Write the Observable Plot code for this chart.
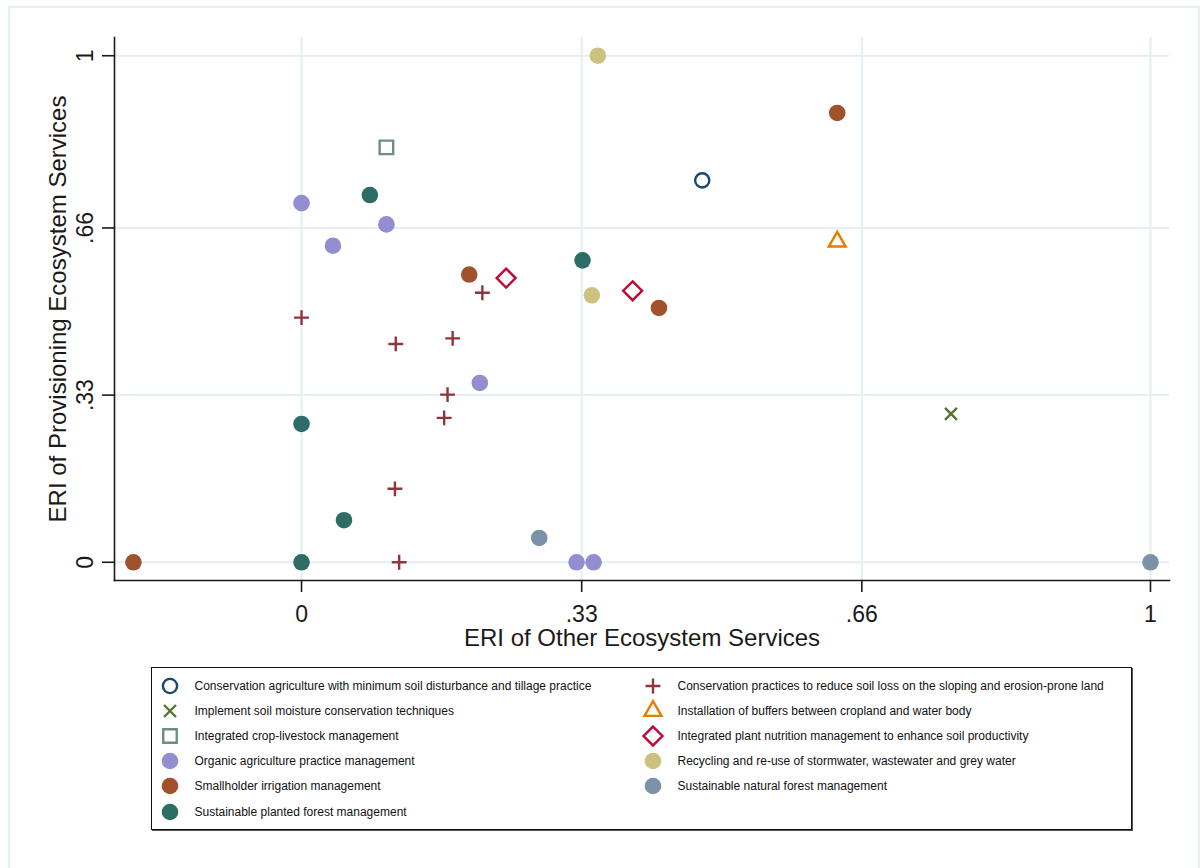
<!DOCTYPE html>
<html><head><meta charset="utf-8">
<script src="https://cdn.jsdelivr.net/npm/d3@7"></script>
<script src="https://cdn.jsdelivr.net/npm/@observablehq/plot@0.6"></script>
<style>
html,body{margin:0;padding:0;background:#fff;overflow:hidden;}
body{width:1202px;height:868px;position:relative;font-family:"Liberation Sans",Arial,sans-serif;}
#frame{position:absolute;left:8px;top:6px;width:1188px;height:900px;border:2px solid #e6eff1;}
#chart{position:absolute;left:0;top:0;}
#legend{position:absolute;left:151px;top:667px;width:979px;height:161px;border:1.5px solid #111;box-shadow:1px 1px 0 #555;background:#fff;}
.item{position:absolute;height:24px;display:flex;align-items:center;font-size:12px;color:#111;white-space:nowrap;}
.item svg{flex:none;margin-right:13px;}
</style></head><body>
<div id="frame"></div><div id="chart"></div><div id="legend"></div>
<script>
// ---- data ----
const xTicks = [0, 0.33, 0.66, 1];
const xTickLabels = ["0", ".33", ".66", "1"];
const yTicks = [0, 0.33, 0.66, 1];
const yTickLabels = ["0", ".33", ".66", "1"];
const xTitle = "ERI of Other Ecosystem Services";
const yTitle = "ERI of Provisioning Ecosystem Services";

const seriesNames = [
  "Conservation agriculture with minimum soil disturbance and tillage practice",
  "Conservation practices to reduce soil loss on the sloping and erosion-prone land",
  "Implement soil moisture conservation techniques",
  "Installation of buffers between cropland and water body",
  "Integrated crop-livestock management",
  "Integrated plant nutrition management to enhance soil productivity",
  "Organic agriculture practice management",
  "Recycling and re-use of stormwater, wastewater and grey water",
  "Smallholder irrigation management",
  "Sustainable natural forest management",
  "Sustainable planted forest management"
];

const consAgriculture = [[0.472, 0.754]];
const consPractices = [[0, 0.483], [0.111, 0.431], [0.178, 0.442], [0.213, 0.532], [0.172, 0.331], [0.168, 0.285], [0.11, 0.145], [0.115, 0]];
const soilMoisture = [[0.765, 0.293]];
const buffers = [[0.631, 0.633]];
const cropLivestock = [[0.1, 0.819]];
const plantNutrition = [[0.241, 0.561], [0.39, 0.536]];
const organic = [[0, 0.709], [0.037, 0.625], [0.1, 0.667], [0.21, 0.354], [0.324, 0], [0.344, 0]];
const recycling = [[0.349, 1], [0.342, 0.527]];
const irrigation = [[-0.198, 0], [0.631, 0.887], [0.1975, 0.568], [0.421, 0.502]];
const naturalForest = [[0.28, 0.048], [1, 0]];
const plantedForest = [[0.0805, 0.725], [0.331, 0.596], [0, 0.273], [0.05, 0.083], [0, 0]];

const seriesData = [consAgriculture, consPractices, soilMoisture, buffers, cropLivestock,
  plantNutrition, organic, recycling, irrigation, naturalForest, plantedForest];

// ---- styles ----
const styles = [
  {symbol: "circle", fill: "none", stroke: "#1a476f", r: 7.1, sw: 2.4},
  {symbol: "plus", fill: "none", stroke: "#90353b", r: 4.85, sw: 2.4},
  {symbol: "times", fill: "none", stroke: "#55752f", r: 5.5, sw: 2.4},
  {symbol: "triangle2", fill: "none", stroke: "#e37e00", r: 8.1, sw: 2.4},
  {symbol: "square2", fill: "none", stroke: "#6e8e84", r: 8.6, sw: 2.4},
  {symbol: "diamond2", fill: "none", stroke: "#c10534", r: 8.5, sw: 2.4},
  {symbol: "circle", fill: "#938dd2", stroke: "none", r: 8.3, sw: 0},
  {symbol: "circle", fill: "#cac27e", stroke: "none", r: 8.3, sw: 0},
  {symbol: "circle", fill: "#a0522d", stroke: "none", r: 8.3, sw: 0},
  {symbol: "circle", fill: "#7b92a8", stroke: "none", r: 8.3, sw: 0},
  {symbol: "circle", fill: "#2d6d66", stroke: "none", r: 8.3, sw: 0}
];
const font = "Liberation Sans, Arial, Helvetica, sans-serif";
const ink = "#1a1a1a";
const gridColor = "#e5eef1";

const dotMarks = seriesData.map((data, i) => {
  const s = styles[i];
  return Plot.dot(data, {
    x: d => d[0], y: d => d[1], symbol: s.symbol, r: s.r,
    fill: s.fill, stroke: s.stroke, strokeWidth: s.sw
  });
});

const chart = Plot.plot({
  width: 1202, height: 660,
  marginTop: 37, marginRight: 33, marginBottom: 80, marginLeft: 114,
  style: {fontFamily: font, color: ink, background: "transparent"},
  x: {domain: [-0.2203, 1.0224]},
  y: {domain: [-0.036, 1.036]},
  marks: [
    Plot.gridX(xTicks, {stroke: gridColor, strokeOpacity: 1, strokeWidth: 2}),
    Plot.gridY(yTicks, {stroke: gridColor, strokeOpacity: 1, strokeWidth: 2}),
    Plot.frame({anchor: "left", stroke: ink, strokeWidth: 1.6}),
    Plot.frame({anchor: "bottom", stroke: ink, strokeWidth: 1.6}),
    Plot.axisX(xTicks, {tickSize: 12, tickPadding: 13, fontSize: 23, label: null,
      tickFormat: d => xTickLabels[xTicks.indexOf(d)], strokeWidth: 1.6, color: ink}),
    Plot.axisY(yTicks, {tickSize: 12, tickPadding: 10, tickRotate: -90, fontSize: 23, label: null,
      tickFormat: d => yTickLabels[yTicks.indexOf(d)], strokeWidth: 1.6, color: ink}),
    Plot.text([xTitle], {text: d => d, frameAnchor: "bottom", textAnchor: "middle", dy: 65, lineAnchor: "bottom", fontSize: 24, fill: ink}),
    Plot.text([yTitle], {text: d => d, frameAnchor: "left", textAnchor: "middle", dx: -49, rotate: -90, lineAnchor: "bottom", fontSize: 24, fill: ink}),
    ...dotMarks
  ]
});
document.getElementById("chart").appendChild(chart);

// ---- legend ----
const symbolTypes = {circle: d3.symbolCircle, plus: d3.symbolPlus, times: d3.symbolTimes,
  triangle2: d3.symbolTriangle2, square2: d3.symbolSquare2, diamond2: d3.symbolDiamond2};
const legend = document.getElementById("legend");
seriesNames.forEach((name, i) => {
  const s = styles[i];
  const col = i % 2, row = Math.floor(i / 2);
  const cx = col === 0 ? 17.5 : 500.5;
  const cy = 17.5 + row * 25.2;
  const item = document.createElement("div");
  item.className = "item";
  item.style.left = (cx - 12) + "px";
  item.style.top = (cy - 12) + "px";
  const path = d3.symbol(symbolTypes[s.symbol], Math.PI * s.r * s.r)();
  item.innerHTML = `<svg width="24" height="24" viewBox="-12 -12 24 24"><path d="${path}" fill="${s.fill}" stroke="${s.stroke}" stroke-width="${s.sw}"/></svg><span>${name}</span>`;
  legend.appendChild(item);
});
</script></body></html>
